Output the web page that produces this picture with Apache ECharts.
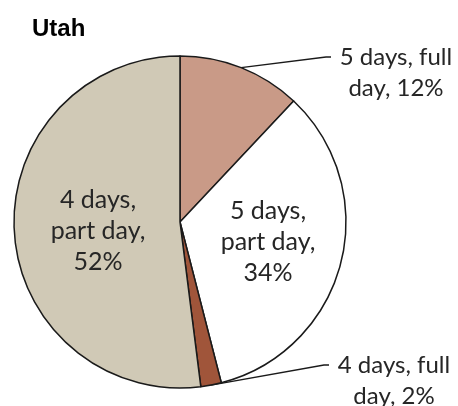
<!DOCTYPE html>
<html>
<head>
<meta charset="utf-8">
<script src="https://cdn.jsdelivr.net/npm/echarts@6/dist/echarts.min.js"></script>
<style>
  html, body { margin: 0; padding: 0; background: #fff; }
  #box { width: 458px; height: 406px; }
</style>
</head>
<body>
<div id="box"></div>
<script>
// slices go clockwise from 12 o'clock
const categories = ['5 days, full day', '5 days, part day', '4 days, full day', '4 days, part day'];
const shares = [12, 34, 2, 52];
const outsideLabels = ['5 days, full day', '4 days, full day'];

const sliceColors = ['#C99A87', '#FFFFFF', '#A0553A', '#D0C9B6'];
const labelFont = 'Lato';

function labelText(p) {
  if (outsideLabels.indexOf(p.name) >= 0) {
    // blank first line so the leader line meets the first text line
    return '\n' + p.name.replace(/ day$/, '\nday') + ', ' + p.value + '%';
  }
  return p.name.replace(', ', ',\n') + ',\n' + p.value + '%';
}

// where each label sits
function placeLabel(p) {
  switch (p.dataIndex) {
    case 0: return { x: 396, y: 57, align: 'center', verticalAlign: 'middle' };
    case 1: return { x: 268, y: 242, align: 'center', verticalAlign: 'middle' };
    case 2: return { x: 394, y: 365, align: 'center', verticalAlign: 'middle' };
    default: return { x: 98, y: 231, align: 'center', verticalAlign: 'middle' };
  }
}

const myChart = echarts.init(document.getElementById('box'));
const option = {
  animation: false,
  color: sliceColors,
  title: {
    text: 'Utah',
    left: 27,
    top: 12,
    textStyle: { fontFamily: 'Liberation Sans', fontWeight: 'bold', fontSize: 24, color: '#000' }
  },
  series: [{
    type: 'pie',
    center: [180, 222],
    radius: 166,
    startAngle: 90,
    clockwise: true,
    avoidLabelOverlap: false,
    itemStyle: { borderColor: '#1a1a1a', borderWidth: 1.5 },
    label: {
      position: 'inside',
      formatter: labelText,
      fontFamily: labelFont,
      fontSize: 25,
      lineHeight: 31,
      color: '#262626',
      align: 'center',
      overflow: 'none'
    },
    labelLine: { show: false, length: 10, length2: 5, lineStyle: { color: '#1a1a1a', width: 1.3 } },
    labelLayout: placeLabel,
    emphasis: { disabled: true },
    data: categories.map(function (name, i) {
      const item = { name: name, value: shares[i] };
      if (outsideLabels.indexOf(name) >= 0) {
        item.label = { position: 'outside', fontSize: 24, lineHeight: 31, width: 130, overflow: 'none' };
        item.labelLine = { show: true };
      }
      return item;
    })
  }]
};
myChart.setOption(option);
</script>
</body>
</html>
